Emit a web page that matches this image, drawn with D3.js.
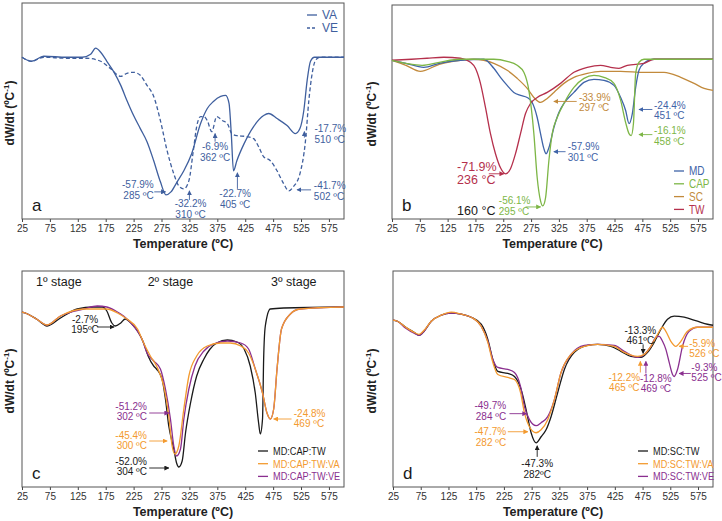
<!DOCTYPE html>
<html><head><meta charset="utf-8">
<script src="https://cdn.jsdelivr.net/npm/d3@7"></script>
<style>body{margin:0;background:#fff} svg{display:block}</style>
</head><body>
<svg id="chart" width="722" height="521"></svg>
<script>
// ---------- DATA (temperature ºC, dW/dt in arbitrary units) ----------
const xTicks = [25, 75, 125, 175, 225, 275, 325, 375, 425, 475, 525, 575];

// Panel a
const aVA = [[25,0],[35,-3],[42,-4],[64,1],[105,0],[133,0],[148,3],[157,9],[166,5],[177,-4],[189,-14],[202,-28],[213,-43],[225,-58],[237,-71],[249,-84],[261,-103],[273,-124],[283,-137],[292,-134],[303,-124],[315,-113],[329,-96],[345,-66],[357,-51],[368,-44],[381,-39],[390,-38],[396,-46],[400,-76],[404,-113],[410,-103],[423,-86],[440,-69],[458,-58],[467,-56],[482,-61],[500,-68],[515,-76],[523,-71],[530,-53],[536,-23],[542,-4],[549,0],[602,0]];
const aVE = [[25,0],[35,-3],[42,-4],[64,0],[105,-1],[141,-1],[166,-4],[183,-11],[202,-19],[213,-16],[225,-15],[237,-18],[249,-28],[261,-39],[273,-63],[285,-93],[297,-116],[306,-128],[315,-131],[324,-123],[332,-93],[338,-69],[345,-59],[351,-59],[357,-63],[365,-74],[374,-59],[384,-63],[393,-66],[401,-76],[410,-78],[428,-79],[440,-81],[449,-89],[458,-99],[470,-103],[482,-113],[494,-126],[503,-133],[511,-129],[523,-116],[533,-83],[539,-43],[545,-16],[551,-3],[559,0],[602,0]];

// Panel b
const bMD = [[25,0],[50,-3],[82,-7],[110,-3],[148,0],[190,1],[208,-8],[220,-17],[232,-25],[244,-32],[256,-35],[268,-37],[277,-42],[286,-57],[292,-73],[298,-88],[302,-93],[307,-87],[316,-67],[325,-52],[334,-43],[352,-32],[370,-22],[388,-19],[406,-20],[424,-25],[436,-37],[445,-50],[451,-63],[457,-53],[463,-27],[469,-10],[478,-3],[496,1],[602,1]];
const bCAP = [[25,0],[50,-3],[79,-5],[110,-2],[148,1],[208,1],[232,-1],[250,-5],[262,-12],[271,-30],[280,-73],[286,-117],[292,-140],[296,-145],[301,-137],[307,-100],[313,-73],[322,-57],[334,-43],[352,-27],[370,-18],[388,-15],[406,-17],[424,-23],[436,-40],[445,-62],[451,-73],[455,-75],[459,-63],[463,-13],[469,-2],[478,1],[602,1]];
const bSC = [[25,0],[50,-5],[76,-11],[110,-4],[148,0],[172,1],[208,-3],[232,-10],[250,-18],[268,-28],[280,-37],[292,-42],[304,-38],[316,-32],[334,-23],[352,-17],[376,-13],[400,-11],[436,-11],[478,-12],[514,-12],[544,-17],[568,-23],[586,-28],[602,-30]];
const bTW = [[25,0],[60,1],[88,2],[118,3],[148,2],[166,-2],[175,-8],[184,-23],[193,-47],[202,-73],[211,-93],[220,-107],[229,-113],[238,-108],[247,-93],[256,-73],[265,-53],[274,-43],[286,-37],[304,-32],[328,-23],[352,-12],[376,-7],[400,-5],[418,-7],[433,-8],[448,-5],[478,-3],[496,1],[602,1]];

// Panel c
const cMDCAPTW = [[25,0],[31,-1],[51,-7],[70,-14],[94,-6],[124,3],[153,5],[169,5],[177,1],[186,-11],[192,-14],[202,-11],[210,-7],[222,-12],[232,-19],[243,-31],[251,-44],[261,-54],[266,-57],[276,-67],[282,-87],[288,-114],[297,-137],[302,-151],[306,-155],[312,-149],[318,-121],[327,-91],[338,-64],[351,-47],[362,-37],[374,-31],[393,-28],[410,-30],[423,-37],[434,-54],[443,-81],[449,-111],[452,-122],[456,-107],[458,-47],[461,-14],[470,3],[494,4],[602,5]];
const cVA = [[25,0],[31,-1],[51,-7],[70,-13],[94,-4],[136,3],[160,3],[177,3],[196,-1],[213,-7],[232,-17],[243,-31],[255,-44],[266,-54],[279,-74],[288,-104],[294,-134],[299,-142],[306,-134],[315,-97],[324,-64],[338,-44],[357,-34],[381,-31],[398,-31],[417,-34],[431,-41],[443,-57],[456,-81],[464,-101],[470,-107],[476,-97],[482,-57],[490,-17],[506,-2],[523,3],[602,5]];
const cVE = [[25,0],[31,-1],[51,-7],[70,-13],[94,-4],[136,3],[160,6],[177,5],[193,1],[207,-4],[225,-14],[240,-27],[249,-41],[261,-49],[273,-57],[282,-77],[291,-107],[297,-134],[302,-144],[309,-137],[315,-107],[324,-77],[335,-54],[351,-39],[368,-32],[393,-29],[417,-31],[431,-37],[443,-57],[456,-81],[464,-101],[470,-107],[476,-97],[482,-57],[490,-17],[506,-2],[523,3],[602,5]];

// Panel d
const dMDSCTW = [[25,0],[33,-1],[48,-7],[63,-12],[72,-15],[81,-11],[94,-1],[112,5],[130,7],[148,6],[166,3],[184,-4],[196,-19],[205,-39],[214,-51],[232,-53],[244,-56],[256,-69],[265,-89],[274,-112],[283,-122],[292,-116],[301,-109],[310,-96],[322,-72],[334,-49],[352,-32],[376,-25],[394,-24],[418,-26],[436,-31],[454,-36],[472,-37],[484,-32],[496,-22],[508,-9],[520,1],[532,4],[550,3],[574,-1],[592,-4],[602,-5]];
const dVA = [[25,0],[33,-1],[48,-7],[63,-12],[72,-14],[81,-10],[94,-1],[112,5],[130,8],[148,6],[166,3],[184,-6],[196,-22],[205,-42],[214,-54],[232,-57],[244,-59],[255,-72],[262,-92],[271,-106],[283,-112],[292,-109],[304,-99],[316,-79],[328,-52],[346,-34],[370,-26],[394,-24],[424,-26],[442,-32],[466,-36],[478,-34],[490,-26],[502,-14],[511,-7],[517,-11],[526,-21],[535,-26],[544,-21],[556,-11],[574,-7],[602,-7]];
const dVE = [[25,0],[33,-1],[48,-8],[63,-13],[72,-15],[81,-11],[94,-1],[112,5],[130,7],[148,6],[166,3],[184,-6],[196,-21],[205,-39],[214,-47],[232,-49],[244,-52],[255,-66],[262,-86],[271,-99],[283,-105],[292,-102],[304,-96],[316,-79],[328,-52],[346,-34],[370,-25],[394,-24],[424,-25],[442,-31],[466,-37],[478,-34],[490,-26],[499,-17],[505,-16],[511,-21],[517,-29],[523,-42],[529,-54],[532,-56],[538,-49],[547,-26],[559,-11],[574,-7],[602,-7]];

// Annotation texts
const aNotes = [
  {lines:["-57.9%","285 ºC"], x:261, y:-127, anchor:"end",   arrow:[262,-134,282,-134]},
  {lines:["-32.2%","310 ºC"], x:327, y:-146, anchor:"middle",arrow:[325,-142,325,-133]},
  {lines:["-6.9%","362 ºC"],  x:371, y:-89,  anchor:"middle",arrow:[371,-84,371,-76]},
  {lines:["-22.7%","405 ºC"], x:407, y:-136, anchor:"middle",arrow:[411,-131,411,-115]},
  {lines:["-41.7%","502 ºC"], x:548, y:-128, anchor:"start", arrow:[543,-132,518,-132]},
  {lines:["-17.7%","510 ºC"], x:549, y:-71,  anchor:"start", arrow:[531,-80,531,-74]}
];
const bNotes = [
  {lines:["-33.9%","297 ºC"], x:361, y:-37, anchor:"start", key:"SC",  arrow:[357,-41,316,-41]},
  {lines:["-57.9%","301 ºC"], x:341, y:-86, anchor:"start", key:"MD",  arrow:[337,-91,316,-91]},
  {lines:["-24.4%","451 ºC"], x:496, y:-45, anchor:"start", key:"MD",  arrow:[493,-49,469,-49]},
  {lines:["-16.1%","458 ºC"], x:496, y:-70, anchor:"start", key:"CAP", arrow:[493,-74,469,-74]},
  {lines:["-71.9%","236 °C"], x:142, y:-106,anchor:"start", key:"TW",  arrow:[199,-113,226,-113], big:true},
  {lines:["-56.1%","295 ºC"], x:217, y:-140,anchor:"start", key:"CAP", arrow:[265,-146,292,-146]},
  {lines:["160 °C"],          x:142, y:-150,anchor:"start", key:"black", big:true}
];
const cStages = [["1º stage",91],["2º stage",291],["3º stage",512]];
const cNotes = [
  {lines:["-2.7%","195ºC"],   x:138, y:-7,   anchor:"middle", key:"k",  arrow:[160,-15,190,-15]},
  {lines:["-51.2%","302 ºC"], x:249, y:-94,  anchor:"end",    key:"VE", arrow:[253,-101,288,-101]},
  {lines:["-45.4%","300 ºC"], x:249, y:-123, anchor:"end",    key:"VA", arrow:[253,-129,285,-129]},
  {lines:["-52.0%","304 ºC"], x:249, y:-149, anchor:"end",    key:"k",  arrow:[253,-156,288,-156]},
  {lines:["-24.8%","469 ºC"], x:512, y:-101, anchor:"start",  key:"VA", arrow:[508,-107,476,-107]}
];
const dNotes = [
  {lines:["-13.3%","461ºC"],  x:471, y:-10,  anchor:"middle", key:"k",  arrow:[476,-24,476,-33]},
  {lines:["-12.2%","465 ºC"], x:442, y:-57,  anchor:"middle", key:"VA", arrow:[471,-52,471,-41]},
  {lines:["-12.8%","469 ºC"], x:499, y:-58,  anchor:"middle", key:"VE", arrow:[481,-53,481,-41]},
  {lines:["-5.9%","526 ºC"],  x:559, y:-23,  anchor:"start",  key:"VA", arrow:[557,-26,541,-26]},
  {lines:["-9.3%","525 ºC"],  x:563, y:-47,  anchor:"start",  key:"VE", arrow:[562,-53,541,-53]},
  {lines:["-49.7%","284 ºC"], x:229, y:-85,  anchor:"end",    key:"VE", arrow:[235,-93,266,-93]},
  {lines:["-47.7%","282 ºC"], x:229, y:-111, anchor:"end",    key:"VA", arrow:[232,-111,268,-111]},
  {lines:["-47.3%","282ºC"],  x:285, y:-143, anchor:"middle", key:"k",  arrow:[285,-136,285,-125]}
];

// ---------- STYLE ----------
const FONT = "'Liberation Sans', Arial, Helvetica, sans-serif";
const C = {blueA:"#3f5f9e", MD:"#3f64a8", CAP:"#7db646", SC:"#c28a3c", TW:"#b5304c",
           k:"#1a1a1a", VA:"#f39a2f", VE:"#8a2f8f", black:"#1a1a1a"};

const svg = d3.select("#chart");
const defs = svg.append("defs");
function marker(color){
  const id = "m" + color.replace("#","");
  if (defs.select("#"+id).empty()){
    defs.append("marker").attr("id",id).attr("viewBox","0 0 8 8").attr("refX",7).attr("refY",4)
      .attr("markerWidth",5).attr("markerHeight",5).attr("markerUnits","userSpaceOnUse").attr("orient","auto")
      .append("path").attr("d","M0,0L8,4L0,8Z").attr("fill",color);
  }
  return "url(#"+id+")";
}

const panels = [
  {letter:"a", box:{x0:22,x1:344,y0:3,y1:219}, yDom:[-161,54], ylx:10,
   series:[{d:aVA,c:C.blueA},{d:aVE,c:C.blueA,dash:"4,2.5"}],
   notes:aNotes.map(n=>({...n,color:C.blueA})),
   legend:{x:307,y:15,dy:13,items:[{t:"VA",c:C.blueA},{t:"VE",c:C.blueA,dash:"3,2"}],fs:12,sx:1,lw:10}},
  {letter:"b", box:{x0:392,x1:713,y0:5,y1:219}, yDom:[-158,55], ylx:372,
   series:[{d:bSC,c:C.SC},{d:bMD,c:C.MD},{d:bTW,c:C.TW},{d:bCAP,c:C.CAP}],
   notes:bNotes.map(n=>({...n,color:C[n.key]})),
   legend:{x:674,y:171,dy:12.8,items:[{t:"MD",c:C.MD},{t:"CAP",c:C.CAP},{t:"SC",c:C.SC},{t:"TW",c:C.TW}],fs:12.5,sx:0.8,lw:10}},
  {letter:"c", box:{x0:22,x1:344,y0:271,y1:487}, yDom:[-175,41], ylx:10,
   series:[{d:cMDCAPTW,c:C.k},{d:cVE,c:C.VE},{d:cVA,c:C.VA}],
   notes:cNotes.map(n=>({...n,color:C[n.key]})),
   legend:{x:258,y:451,dy:12.7,items:[{t:"MD:CAP:TW",c:C.k},{t:"MD:CAP:TW:VA",c:C.VA},{t:"MD:CAP:TW:VE",c:C.VE}],fs:11.5,sx:0.8,lw:10}},
  {letter:"d", box:{x0:393,x1:713,y0:271,y1:487}, yDom:[-166,49], ylx:372,
   series:[{d:dMDSCTW,c:C.k},{d:dVE,c:C.VE},{d:dVA,c:C.VA}],
   notes:dNotes.map(n=>({...n,color:C[n.key]})),
   legend:{x:638,y:451,dy:12.7,items:[{t:"MD:SC:TW",c:C.k},{t:"MD:SC:TW:VA",c:C.VA},{t:"MD:SC:TW:VE",c:C.VE}],fs:11.5,sx:0.8,lw:10}}
];

panels.forEach(p=>{
  const b = p.box;
  const x = d3.scaleLinear().domain([25,602]).range([b.x0,b.x1]);
  const y = d3.scaleLinear().domain(p.yDom).range([b.y1,b.y0]);
  const g = svg.append("g");

  // x axis
  const ax = g.append("g").attr("transform",`translate(0,${b.y1})`)
    .call(d3.axisBottom(x).tickValues(xTicks).tickSize(3).tickPadding(3).tickFormat(d3.format("d")));
  ax.select(".domain").remove();
  ax.selectAll(".tick line").attr("stroke","#444");
  ax.selectAll("text").attr("font-family",FONT).attr("font-size",10).attr("fill","#333");

  // frame
  g.append("rect").attr("x",b.x0).attr("y",b.y0).attr("width",b.x1-b.x0).attr("height",b.y1-b.y0)
    .attr("fill","none").attr("stroke","#555").attr("stroke-width",1);

  // axis titles
  g.append("text").attr("x",(b.x0+b.x1)/2).attr("y",b.y1+29).attr("text-anchor","middle")
    .attr("font-family",FONT).attr("font-size",12.5).attr("font-weight","bold").attr("fill","#222")
    .text("Temperature (ºC)");
  const yl = g.append("text").attr("transform",`translate(${p.ylx+4},${(b.y0+b.y1)/2+2}) rotate(-90)`)
    .attr("text-anchor","middle").attr("font-family",FONT).attr("font-size",12).attr("font-weight","bold").attr("fill","#222");
  yl.append("tspan").text("dW/dt (ºC");
  yl.append("tspan").attr("font-size",8).attr("dy",-5).text("-1");
  yl.append("tspan").attr("dy",5).text(")");

  // curves
  const line = d3.line().x(d=>x(d[0])).y(d=>y(d[1])).curve(d3.curveMonotoneX);
  p.series.forEach(s=>{
    g.append("path").datum(s.d).attr("d",line).attr("fill","none").attr("stroke",s.c)
      .attr("stroke-width",1.3).attr("stroke-dasharray",s.dash||null).attr("stroke-linejoin","round");
  });

  // annotations
  p.notes.forEach(n=>{
    const fs = n.big ? 12.5 : 10;
    const lh = n.big ? 13 : 10.5;
    n.lines.forEach((t,i)=>{
      g.append("text").attr("x",x(n.x)).attr("y",y(n.y)+i*lh).attr("dy","0.35em")
        .attr("text-anchor",n.anchor).attr("font-family",FONT).attr("font-size",fs).attr("fill",n.color).text(t);
    });
    if(n.arrow){
      const a = n.arrow;
      g.append("line").attr("x1",x(a[0])).attr("y1",y(a[1])).attr("x2",x(a[2])).attr("y2",y(a[3]))
        .attr("stroke",n.color).attr("stroke-width",0.9).attr("marker-end",marker(n.color));
    }
  });

  // stage labels (panel c)
  if(p.letter==="c"){
    cStages.forEach(s=>{
      g.append("text").attr("x",x(s[1])).attr("y",y(30)).attr("dy","0.35em").attr("text-anchor","middle")
        .attr("font-family",FONT).attr("font-size",12.5).attr("fill","#1a1a1a").text(s[0]);
    });
  }

  // legend
  const L = p.legend;
  L.items.forEach((it,i)=>{
    const yy = L.y + i*L.dy;
    g.append("line").attr("x1",L.x).attr("x2",L.x+L.lw).attr("y1",yy).attr("y2",yy)
      .attr("stroke",it.c).attr("stroke-width",1.3).attr("stroke-dasharray",it.dash||null);
    g.append("text").attr("transform",`translate(${L.x+L.lw+5},${yy}) scale(${L.sx},1)`)
      .attr("dy","0.35em").attr("font-family",FONT)
      .attr("font-size",L.fs).attr("fill",it.c).text(it.t);
  });

  // panel letter
  g.append("text").attr("x",b.x0+10).attr("y",b.y1-14).attr("dy","0.35em").attr("font-family",FONT)
    .attr("font-size",17).attr("fill","#1a1a1a").text(p.letter);
});
</script>
</body></html>
